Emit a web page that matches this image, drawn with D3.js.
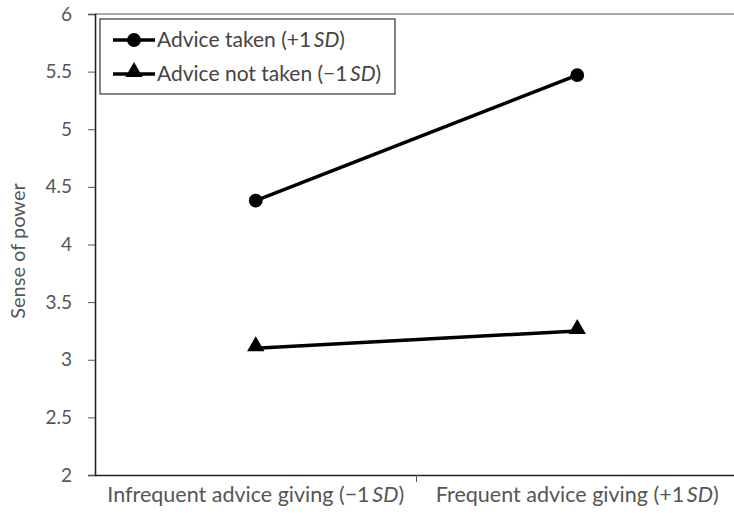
<!DOCTYPE html>
<html>
<head>
<meta charset="utf-8">
<script src="https://cdn.jsdelivr.net/npm/d3@7"></script>
<style>
  body { margin: 0; background: #fff; }
  text { font-family: Lato, "Open Sans", sans-serif; }
</style>
</head>
<body>
<svg id="chart" width="734" height="521"></svg>
<script>
var categories = ['Infrequent advice giving (\u22121 SD)', 'Frequent advice giving (+1 SD)'];
var seriesNames = ['Advice taken (+1 SD)', 'Advice not taken (\u22121 SD)'];
var adviceTaken = [4.38, 5.47];
var adviceNotTaken = [3.1, 3.25];
var yTicks = [2, 2.5, 3, 3.5, 4, 4.5, 5, 5.5, 6];

var svg = d3.select('#chart');
var plotL = 95, plotR = 738, plotT = 14, plotB = 475;

var x = d3.scaleBand().domain(categories).range([plotL, plotR]);
var y = d3.scaleLinear().domain([2, 6]).range([plotB, plotT]);

// top border
svg.append('line').attr('x1', plotL).attr('x2', 734).attr('y1', plotT).attr('y2', plotT)
  .attr('stroke', '#8c8c8c').attr('stroke-width', 1.5);

var yAxis = svg.append('g').attr('transform', 'translate(' + plotL + ',0)')
  .call(d3.axisLeft(y).tickValues(yTicks).tickFormat(d3.format('')).tickSize(7).tickPadding(16));
yAxis.select('.domain').attr('stroke', '#222').attr('stroke-width', 1.6);
yAxis.selectAll('.tick line').attr('stroke', '#555');
yAxis.selectAll('.tick text').attr('font-size', 19).attr('fill', '#555');

var xAxis = svg.append('g').attr('transform', 'translate(0,' + plotB + ')')
  .call(d3.axisBottom(x).tickSize(0).tickPadding(12));
xAxis.select('.domain').attr('stroke', '#222').attr('stroke-width', 1.6);
xAxis.selectAll('.tick text').attr('font-size', 21.5).attr('fill', '#555')
  .text(null)
  .each(function(d) {
    var t = d3.select(this);
    var m = d.match(/^(.*\()(.*)(SD\))$/);
    t.append('tspan').text(m[1] + m[2].replace(' ', '\u2009'));
    t.append('tspan').attr('font-style', 'italic').text('SD');
    t.append('tspan').text(')');
  });
// band separator tick
svg.append('line').attr('x1', x(categories[1])).attr('x2', x(categories[1]))
  .attr('y1', plotB).attr('y2', plotB + 7).attr('stroke', '#555');

svg.append('text').attr('transform', 'translate(25,' + 251 + ') rotate(-90)')
  .attr('text-anchor', 'middle').attr('font-size', 20).attr('fill', '#555').text('Sense of power');

var cx = function(i) { return x(categories[i]) + x.bandwidth() / 2; };
var line = d3.line().x(function(d, i) { return cx(i); }).y(function(d) { return y(d); });

svg.append('path').datum(adviceTaken).attr('d', line).attr('fill', 'none').attr('stroke', '#000').attr('stroke-width', 3.5);
svg.append('path').datum(adviceNotTaken).attr('d', line).attr('fill', 'none').attr('stroke', '#000').attr('stroke-width', 3.5);

var circ = d3.symbol().type(d3.symbolCircle).size(150);
var tri = d3.symbol().type(d3.symbolTriangle).size(130);

svg.selectAll('.pt1').data(adviceTaken).enter().append('path')
  .attr('d', circ).attr('fill', '#000')
  .attr('transform', function(d, i) { return 'translate(' + cx(i) + ',' + y(d) + ')'; });
svg.selectAll('.pt2').data(adviceNotTaken).enter().append('path')
  .attr('d', tri).attr('fill', '#000')
  .attr('transform', function(d, i) { return 'translate(' + cx(i) + ',' + (y(d) - 2) + ')'; });

// legend
var lg = svg.append('g');
lg.append('rect').attr('x', 100).attr('y', 19).attr('width', 295).attr('height', 75)
  .attr('fill', '#fff').attr('stroke', '#333').attr('stroke-width', 1.2);
var symbols = [circ, tri];
seriesNames.forEach(function(name, i) {
  var yy = 40 + i * 34;
  lg.append('line').attr('x1', 113).attr('x2', 155).attr('y1', yy).attr('y2', yy)
    .attr('stroke', '#000').attr('stroke-width', 3.5);
  lg.append('path').attr('d', symbols[i]).attr('fill', '#000')
    .attr('transform', 'translate(134,' + (i ? yy - 2 : yy) + ')');
  var t = lg.append('text').attr('x', 157).attr('y', yy + 7).attr('font-size', 21).attr('fill', '#444');
  var m = name.match(/^(.*\()(.*)(SD\))$/);
  t.append('tspan').text(m[1] + m[2].replace(' ', '\u2009'));
  t.append('tspan').attr('font-style', 'italic').text('SD');
  t.append('tspan').text(')');
});
</script>
</body>
</html>
